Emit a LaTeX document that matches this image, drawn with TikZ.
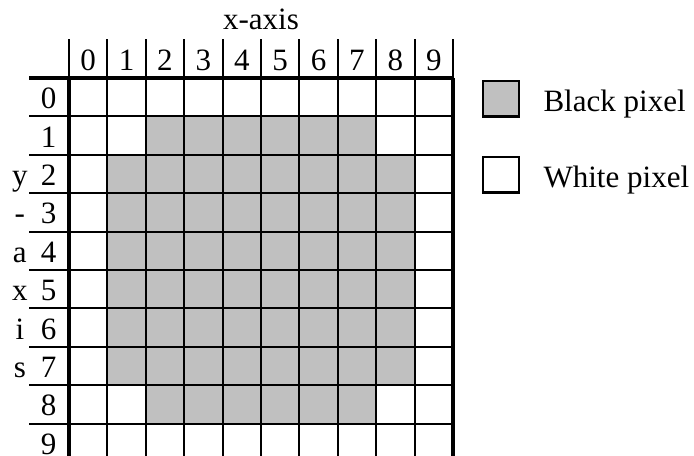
\documentclass[tikz,border=0pt]{standalone}
\usepackage{xcolor}
\usepackage{fontspec}
\setmainfont{Liberation Serif}
\usepackage{tikz}
\usetikzlibrary{positioning}

\definecolor{pixgray}{RGB}{192,192,192}

\begin{document}
\begin{tikzpicture}[
    x=1cm, y=-1cm,
    every node/.style={font=\fontsize{23}{27}\selectfont, inner sep=0pt},
    gridline/.style={line width=1.5pt},
    border/.style={line width=3pt},
    lbl/.style={anchor=base},
    keybox/.style={draw, line width=2pt, minimum size=0.93cm}
  ]
    \useasboundingbox (-1.797,-2.031) rectangle (16.276,9.844);
    % black pixels
    \fill[pixgray] (2,1) rectangle (8,2);
    \fill[pixgray] (1,2) rectangle (9,8);
    \fill[pixgray] (2,8) rectangle (8,9);
    % grid and headers
    \draw[gridline] (0,0) grid (10,10);
    \foreach \i in {0,...,10} {
      \draw[gridline] (\i,0) -- (\i,-1.016);
      \draw[gridline] (-1.04,\i) -- (0,\i);
    }
    \draw[border] (-1.04,0) -- (10,0);
    \draw[border] (0,0) -- (0,10);
    \draw[border] (10,0) -- (10,10);
    % axis numbers
    \foreach \i in {0,...,9} {
      \node[lbl] (col\i) at (\i+0.5,-0.2) {\i};
      \node[lbl] (row\i) at (-0.53,\i+0.8) {\i};
    }
    \node[lbl] (xaxis) at (5,-1.25) {x-axis};
    \foreach \c [count=\k from 2] in {y,-,a,x,i,s}
      \node[lbl] (ylet\k) at (-1.28,\k+0.8) {\c};
    % legend
    \node[keybox, fill=pixgray] (kblack) at (11.25,0.547) {};
    \node[keybox, fill=white] (kwhite) at (11.25,2.526) {};
    \node[right=0.6cm of kblack, yshift=-0.12cm] (tblack) {Black pixel};
    \node[right=0.6cm of kwhite, yshift=-0.12cm] (twhite) {White pixel};
  \end{tikzpicture}
\end{document}
